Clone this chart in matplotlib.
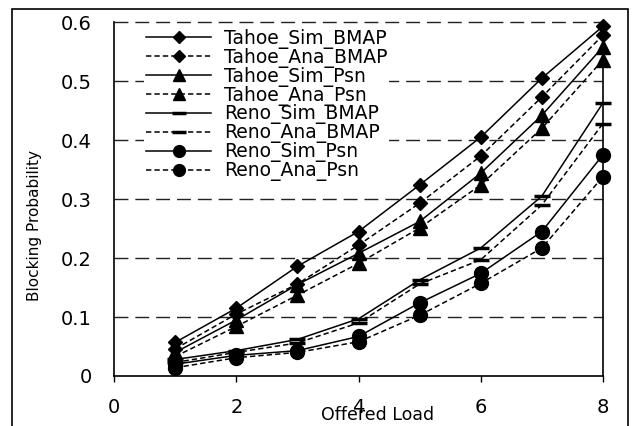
import numpy as np
import matplotlib
matplotlib.use('Agg')
import matplotlib.pyplot as plt
from matplotlib.patches import Rectangle

# Offered load values
load = [1, 2, 3, 4, 5, 6, 7, 8]

# Blocking probability per series
tahoe_sim_bmap = [0.057, 0.115, 0.186, 0.245, 0.324, 0.405, 0.505, 0.593]
tahoe_ana_bmap = [0.046, 0.105, 0.156, 0.222, 0.293, 0.373, 0.473, 0.578]
tahoe_sim_psn = [0.040, 0.095, 0.155, 0.208, 0.262, 0.344, 0.442, 0.558]
tahoe_ana_psn = [0.033, 0.084, 0.137, 0.191, 0.251, 0.324, 0.420, 0.536]
reno_sim_bmap = [0.028, 0.043, 0.062, 0.097, 0.163, 0.217, 0.305, 0.463]
reno_ana_bmap = [0.023, 0.040, 0.056, 0.090, 0.156, 0.197, 0.290, 0.428]
reno_sim_psn = [0.020, 0.035, 0.043, 0.067, 0.124, 0.174, 0.245, 0.375]
reno_ana_psn = [0.014, 0.031, 0.040, 0.058, 0.103, 0.157, 0.217, 0.338]

labels = ['Tahoe_Sim_BMAP', 'Tahoe_Ana_BMAP', 'Tahoe_Sim_Psn', 'Tahoe_Ana_Psn',
          'Reno_Sim_BMAP', 'Reno_Ana_BMAP', 'Reno_Sim_Psn', 'Reno_Ana_Psn']
x_ticks = [0, 2, 4, 6, 8]
y_ticks = [0, 0.1, 0.2, 0.3, 0.4, 0.5, 0.6]
y_tick_labels = ['0', '0.1', '0.2', '0.3', '0.4', '0.5', '0.6']

plt.rcParams['font.family'] = ['DejaVu Sans']

fig = plt.figure(figsize=(6.34, 4.26), dpi=100)
ax = fig.add_axes([0.18, 0.1174, 0.771, 0.8306])

solid = '-'
dashed = (0, (3.5, 2))
series = [
    (tahoe_sim_bmap, solid, 'D', 7.5, 1),
    (tahoe_ana_bmap, dashed, 'D', 7.5, 1),
    (tahoe_sim_psn, solid, '^', 10, 1),
    (tahoe_ana_psn, dashed, '^', 10, 1),
    (reno_sim_bmap, solid, '_', 12, 2.5),
    (reno_ana_bmap, dashed, '_', 12, 2.5),
    (reno_sim_psn, solid, 'o', 10, 1),
    (reno_ana_psn, dashed, 'o', 10, 1),
]
for (vals, ls, mk, ms, mew), lab in zip(series, labels):
    ax.plot(load, vals, linestyle=ls, color='black', lw=1.1, marker=mk,
            markersize=ms, markeredgewidth=mew, markerfacecolor='black',
            markeredgecolor='black', label=lab, clip_on=False, zorder=3)

ax.set_xlim(0, 8)
ax.set_ylim(0, 0.6)
ax.set_xticks(x_ticks)
ax.set_xticklabels([str(v) for v in x_ticks])
ax.set_yticks(y_ticks)
ax.set_yticklabels(y_tick_labels)

for yv in y_ticks[1:]:
    ax.axhline(yv, color='#222222', lw=1.0, linestyle=(0, (10, 5)), zorder=1,
               clip_on=False)

ax.spines['top'].set_visible(False)
for s in ['left', 'right', 'bottom']:
    ax.spines[s].set_linewidth(1.2)
ax.tick_params(axis='x', direction='out', length=4.5, width=1.0, pad=11,
               labelsize=14)
ax.tick_params(axis='y', length=0, pad=16, labelsize=14)

leg = ax.legend(loc='upper left', bbox_to_anchor=(0.061, 0.986), fontsize=13.5,
                handlelength=3.5, handletextpad=0.65, labelspacing=-0.06,
                borderpad=0.1, borderaxespad=0, numpoints=1, fancybox=False,
                framealpha=1, markerscale=0.85)
leg.get_frame().set_facecolor('white')
leg.get_frame().set_linewidth(0)
leg.set_zorder(5)

fig.text(0.595, 0.026, 'Offered Load', ha='center', va='center', fontsize=12.5)
fig.text(0.055, 0.47, 'Blocking Probability', ha='center', va='center',
         rotation=90, fontsize=11)

fig.patches.append(Rectangle((0.019, -0.05), 0.971, 1.028, fill=False,
                             lw=1.2, edgecolor='black',
                             transform=fig.transFigure, figure=fig))

fig.savefig('out.png', dpi=100)
